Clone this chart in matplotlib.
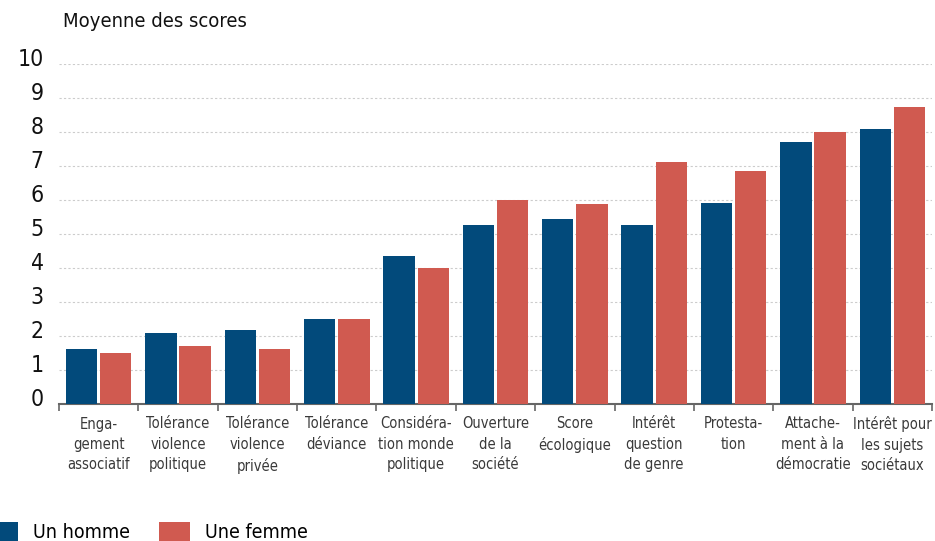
import matplotlib
matplotlib.use("Agg")
import matplotlib.pyplot as plt
import matplotlib.transforms as mtransforms
from matplotlib.patches import Patch
import numpy as np

plt.rcParams['font.family'] = ['DejaVu Sans']
plt.rcParams['font.stretch'] = 'condensed'

categories = ["Enga-\ngement\nassociatif", "Tolérance\nviolence\npolitique",
              "Tolérance\nviolence\nprivée", "Tolérance\ndéviance",
              "Considéra-\ntion monde\npolitique", "Ouverture\nde la\nsociété",
              "Score\nécologique", "Intérêt\nquestion\nde genre",
              "Protesta-\ntion", "Attache-\nment à la\ndémocratie",
              "Intérêt pour\nles sujets\nsociétaux"]
hommes = [1.62, 2.09, 2.18, 2.50, 4.35, 5.26, 5.44, 5.26, 5.91, 7.71, 8.09]
femmes = [1.50, 1.71, 1.62, 2.50, 4.00, 6.00, 5.88, 7.12, 6.85, 8.00, 8.74]
series_labels = ["Un homme", "Une femme"]
yticks = list(range(0, 11))

blue = "#024a7b"
red = "#d05a50"

W, H = 935, 541
fig = plt.figure(figsize=(W / 100, H / 100), dpi=100)
ax = fig.add_axes([59 / W, 1 - 404 / H, (932 - 59) / W, (404 - 64) / H])

x = np.arange(len(categories))
bw = 0.395
gap = 0.036
ax.bar(x - (bw + gap) / 2, hommes, width=bw, color=blue, zorder=3)
ax.bar(x + (bw + gap) / 2, femmes, width=bw, color=red, zorder=3)

ax.set_xlim(-0.5, len(categories) - 0.5)
ax.set_ylim(0, 10)

for s in ["top", "right", "left"]:
    ax.spines[s].set_visible(False)
ax.spines["bottom"].set_color("#666666")
ax.spines["bottom"].set_linewidth(1.5)

ax.set_yticks(yticks)
ax.set_yticklabels([str(v) for v in yticks], fontsize=16.5, color="#111111")
ax.tick_params(axis="y", length=0, pad=11)
offset = mtransforms.ScaledTranslation(0, -2 / 100, fig.dpi_scale_trans)
for lab in ax.get_yticklabels():
    lab.set_va("baseline")
    lab.set_transform(lab.get_transform() + offset)

ax.yaxis.grid(True, color="#cccccc", linestyle=(0, (2, 2)), linewidth=0.8, zorder=0)
ax.set_axisbelow(True)

ax.set_xticks(np.arange(-0.5, len(categories), 1.0), minor=True)
ax.set_xticks(x)
ax.set_xticklabels(categories, fontsize=10.5, color="#3a3a3a", linespacing=1.45, va="top")
ax.tick_params(axis="x", which="major", length=0, pad=9)
ax.tick_params(axis="x", which="minor", length=5, width=1.2, color="#666666")

fig.text(63 / W, 1 - 12 / H, "Moyenne des scores", fontsize=14.5, color="#111111",
         ha="left", va="top")

handles = [Patch(facecolor=blue), Patch(facecolor=red)]
fig.legend(handles, series_labels, loc="upper left",
           bbox_to_anchor=(-13 / W, 1 - 522 / H), frameon=False, fontsize=14,
           ncol=2, handlelength=1.6, handleheight=1.1, handletextpad=0.77,
           columnspacing=1.5, borderpad=0, borderaxespad=0)

fig.savefig("out.png", dpi=100)
